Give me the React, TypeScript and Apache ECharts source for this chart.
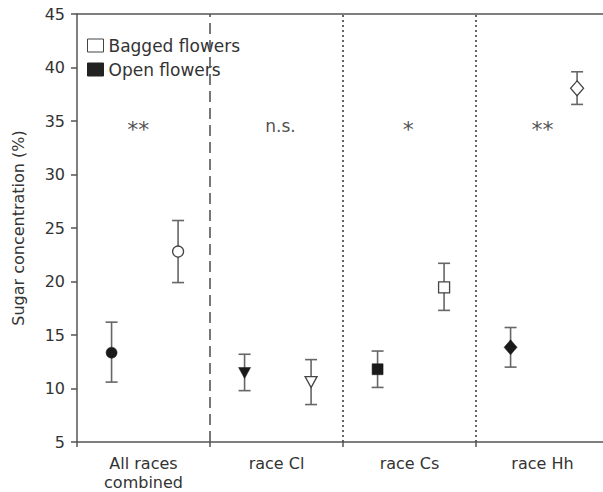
import React, { useEffect, useRef } from "react";
import * as echarts from "echarts";

const groups = ["All races\ncombined", "race Cl", "race Cs", "race Hh"];
const openMean = [13.35, 11.45, 11.8, 13.85];
const openLow = [10.6, 9.8, 10.1, 12.0];
const openHigh = [16.2, 13.2, 13.5, 15.7];
const baggedMean = [22.8, 10.6, 19.46, 38.05];
const baggedLow = [19.9, 8.5, 17.3, 36.55];
const baggedHigh = [25.7, 12.7, 21.7, 39.6];
const markerSymbols = ["circle", "triangle", "rect", "diamond"];
const sigLabels = ["**", "n.s.", "*", "**"];
const sigY = [34.25, 34.5, 34.25, 34.25];
const separators = [1, 2, 3];
const yTicks = { min: 5, max: 45, interval: 5 };

const FONT = "'DejaVu Sans', 'Liberation Sans', Arial, sans-serif";
const OPEN_OFF = 0.26;
const BAG_OFF = 0.76;

function symSize(s: string): number | number[] {
  if (s === "diamond") return [13, 15];
  if (s === "triangle") return [12, 11];
  if (s === "rect") return 11;
  return 11;
}

export default function App() {
  const ref = useRef<HTMLDivElement>(null);
  useEffect(() => {
    if (!ref.current) return;
    const chart = echarts.init(ref.current, undefined, { renderer: "svg" });

    const errData: number[][] = [];
    groups.forEach((_, i) => {
      errData.push([i + OPEN_OFF, openLow[i], openHigh[i]]);
      errData.push([i + BAG_OFF, baggedLow[i], baggedHigh[i]]);
    });

    const openData = groups.map((_, i) => ({
      value: [i + OPEN_OFF, openMean[i]],
      symbol: markerSymbols[i],
      symbolSize: symSize(markerSymbols[i]),
      symbolRotate: markerSymbols[i] === "triangle" ? 180 : 0,
    }));
    const bagData = groups.map((_, i) => ({
      value: [i + BAG_OFF, baggedMean[i]],
      symbol: markerSymbols[i],
      symbolSize: symSize(markerSymbols[i]),
      symbolRotate: markerSymbols[i] === "triangle" ? 180 : 0,
    }));
    const sigPos = [0.46, 1.53, 2.49, 3.5];
    const sigData = sigLabels.map((l, i) => ({
      value: [sigPos[i], sigY[i]],
      name: l,
      label: { fontSize: l.includes("*") ? 22 : 17, color: "#222" },
    }));

    const option: any = {
      animation: false,
      backgroundColor: "#fff",
      grid: {
        left: 77,
        top: 14,
        width: 532,
        height: 428,
        show: false,
        outerBoundsMode: "none",
        containLabel: false,
      },
      legend: {
        orient: "vertical",
        left: 82,
        top: 32,
        itemWidth: 16,
        itemHeight: 13,
        itemGap: 7,
        textStyle: { fontFamily: FONT, fontSize: 17, color: "#333" },
        data: [
          {
            name: "Bagged flowers",
            icon: "rect",
            itemStyle: { color: "#fff", borderColor: "#444", borderWidth: 1 },
          },
          {
            name: "Open flowers",
            icon: "rect",
            itemStyle: { color: "#222", borderColor: "#222", borderWidth: 1 },
          },
        ],
      },
      xAxis: [
        {
          type: "value",
          min: 0,
          max: 4,
          interval: 1,
          position: "bottom",
          axisLine: { show: true, lineStyle: { color: "#555", width: 1.5 } },
          axisTick: { show: true, length: 5, lineStyle: { color: "#555", width: 1.5 } },
          axisLabel: { show: false },
          splitLine: { show: false },
        },
        {
          type: "category",
          position: "bottom",
          data: groups,
          boundaryGap: true,
          axisLine: { show: false },
          axisTick: { show: false },
          axisLabel: {
            show: true,
            margin: 12,
            fontFamily: FONT,
            fontSize: 16,
            color: "#333",
            lineHeight: 19,
            interval: 0,
          },
        },
        {
          type: "value",
          position: "top",
          min: 0,
          max: 4,
          axisLine: { show: true, lineStyle: { color: "#555", width: 1.5 } },
          axisTick: { show: false },
          axisLabel: { show: false },
          splitLine: { show: false },
        },
      ],
      yAxis: {
        type: "value",
        min: yTicks.min,
        max: yTicks.max,
        interval: yTicks.interval,
        name: "Sugar concentration (%)",
        nameLocation: "middle",
        nameGap: 51,
        nameTextStyle: { fontFamily: FONT, fontSize: 16, color: "#333" },
        axisLine: { show: true, lineStyle: { color: "#555", width: 1.5 } },
        axisTick: { show: true, length: 6, lineStyle: { color: "#555", width: 1.5 } },
        axisLabel: { margin: 12, fontFamily: FONT, fontSize: 16, color: "#333" },
        splitLine: { show: false },
      },
      series: [
        {
          type: "custom",
          name: "err",
          xAxisIndex: 0,
          z: 2,
          data: errData,
          renderItem: (params: any, api: any) => {
            const x = api.value(0);
            const lo = api.coord([x, api.value(1)]);
            const hi = api.coord([x, api.value(2)]);
            const hw = 6;
            const style = { stroke: "#666", lineWidth: 1.6 };
            return {
              type: "group",
              children: [
                { type: "line", shape: { x1: lo[0], y1: lo[1], x2: hi[0], y2: hi[1] }, style },
                { type: "line", shape: { x1: lo[0] - hw, y1: lo[1], x2: lo[0] + hw, y2: lo[1] }, style },
                { type: "line", shape: { x1: hi[0] - hw, y1: hi[1], x2: hi[0] + hw, y2: hi[1] }, style },
              ],
            };
          },
          markLine: {
            silent: true,
            symbol: "none",
            label: { show: false },
            data: separators.map((s, i) => ({
              xAxis: s,
              lineStyle: {
                color: "#555",
                width: i === 0 ? 1.6 : 1.8,
                type: i === 0 ? [11, 6] : [2, 3],
              },
            })),
          },
        },
        {
          type: "scatter",
          name: "Open flowers",
          xAxisIndex: 0,
          z: 5,
          data: openData,
          itemStyle: { color: "#1a1a1a", borderColor: "#1a1a1a", borderWidth: 0.5, opacity: 1 },
        },
        {
          type: "scatter",
          name: "Bagged flowers",
          xAxisIndex: 0,
          z: 5,
          data: bagData,
          itemStyle: { color: "#fff", borderColor: "#444", borderWidth: 1.3, opacity: 1 },
        },
        {
          type: "scatter",
          name: "sig",
          xAxisIndex: 0,
          z: 6,
          symbolSize: 0,
          itemStyle: { color: "#222" },
          data: sigData,
          label: {
            show: true,
            position: "inside",
            formatter: (p: any) => p.name,
            fontFamily: FONT,
            color: "#222",
          },
        },
      ],
    };
    chart.setOption(option);
    return () => chart.dispose();
  }, []);
  return <div ref={ref} style={{ width: 603, height: 492, position: "absolute", left: 0, top: 0 }} />;
}
